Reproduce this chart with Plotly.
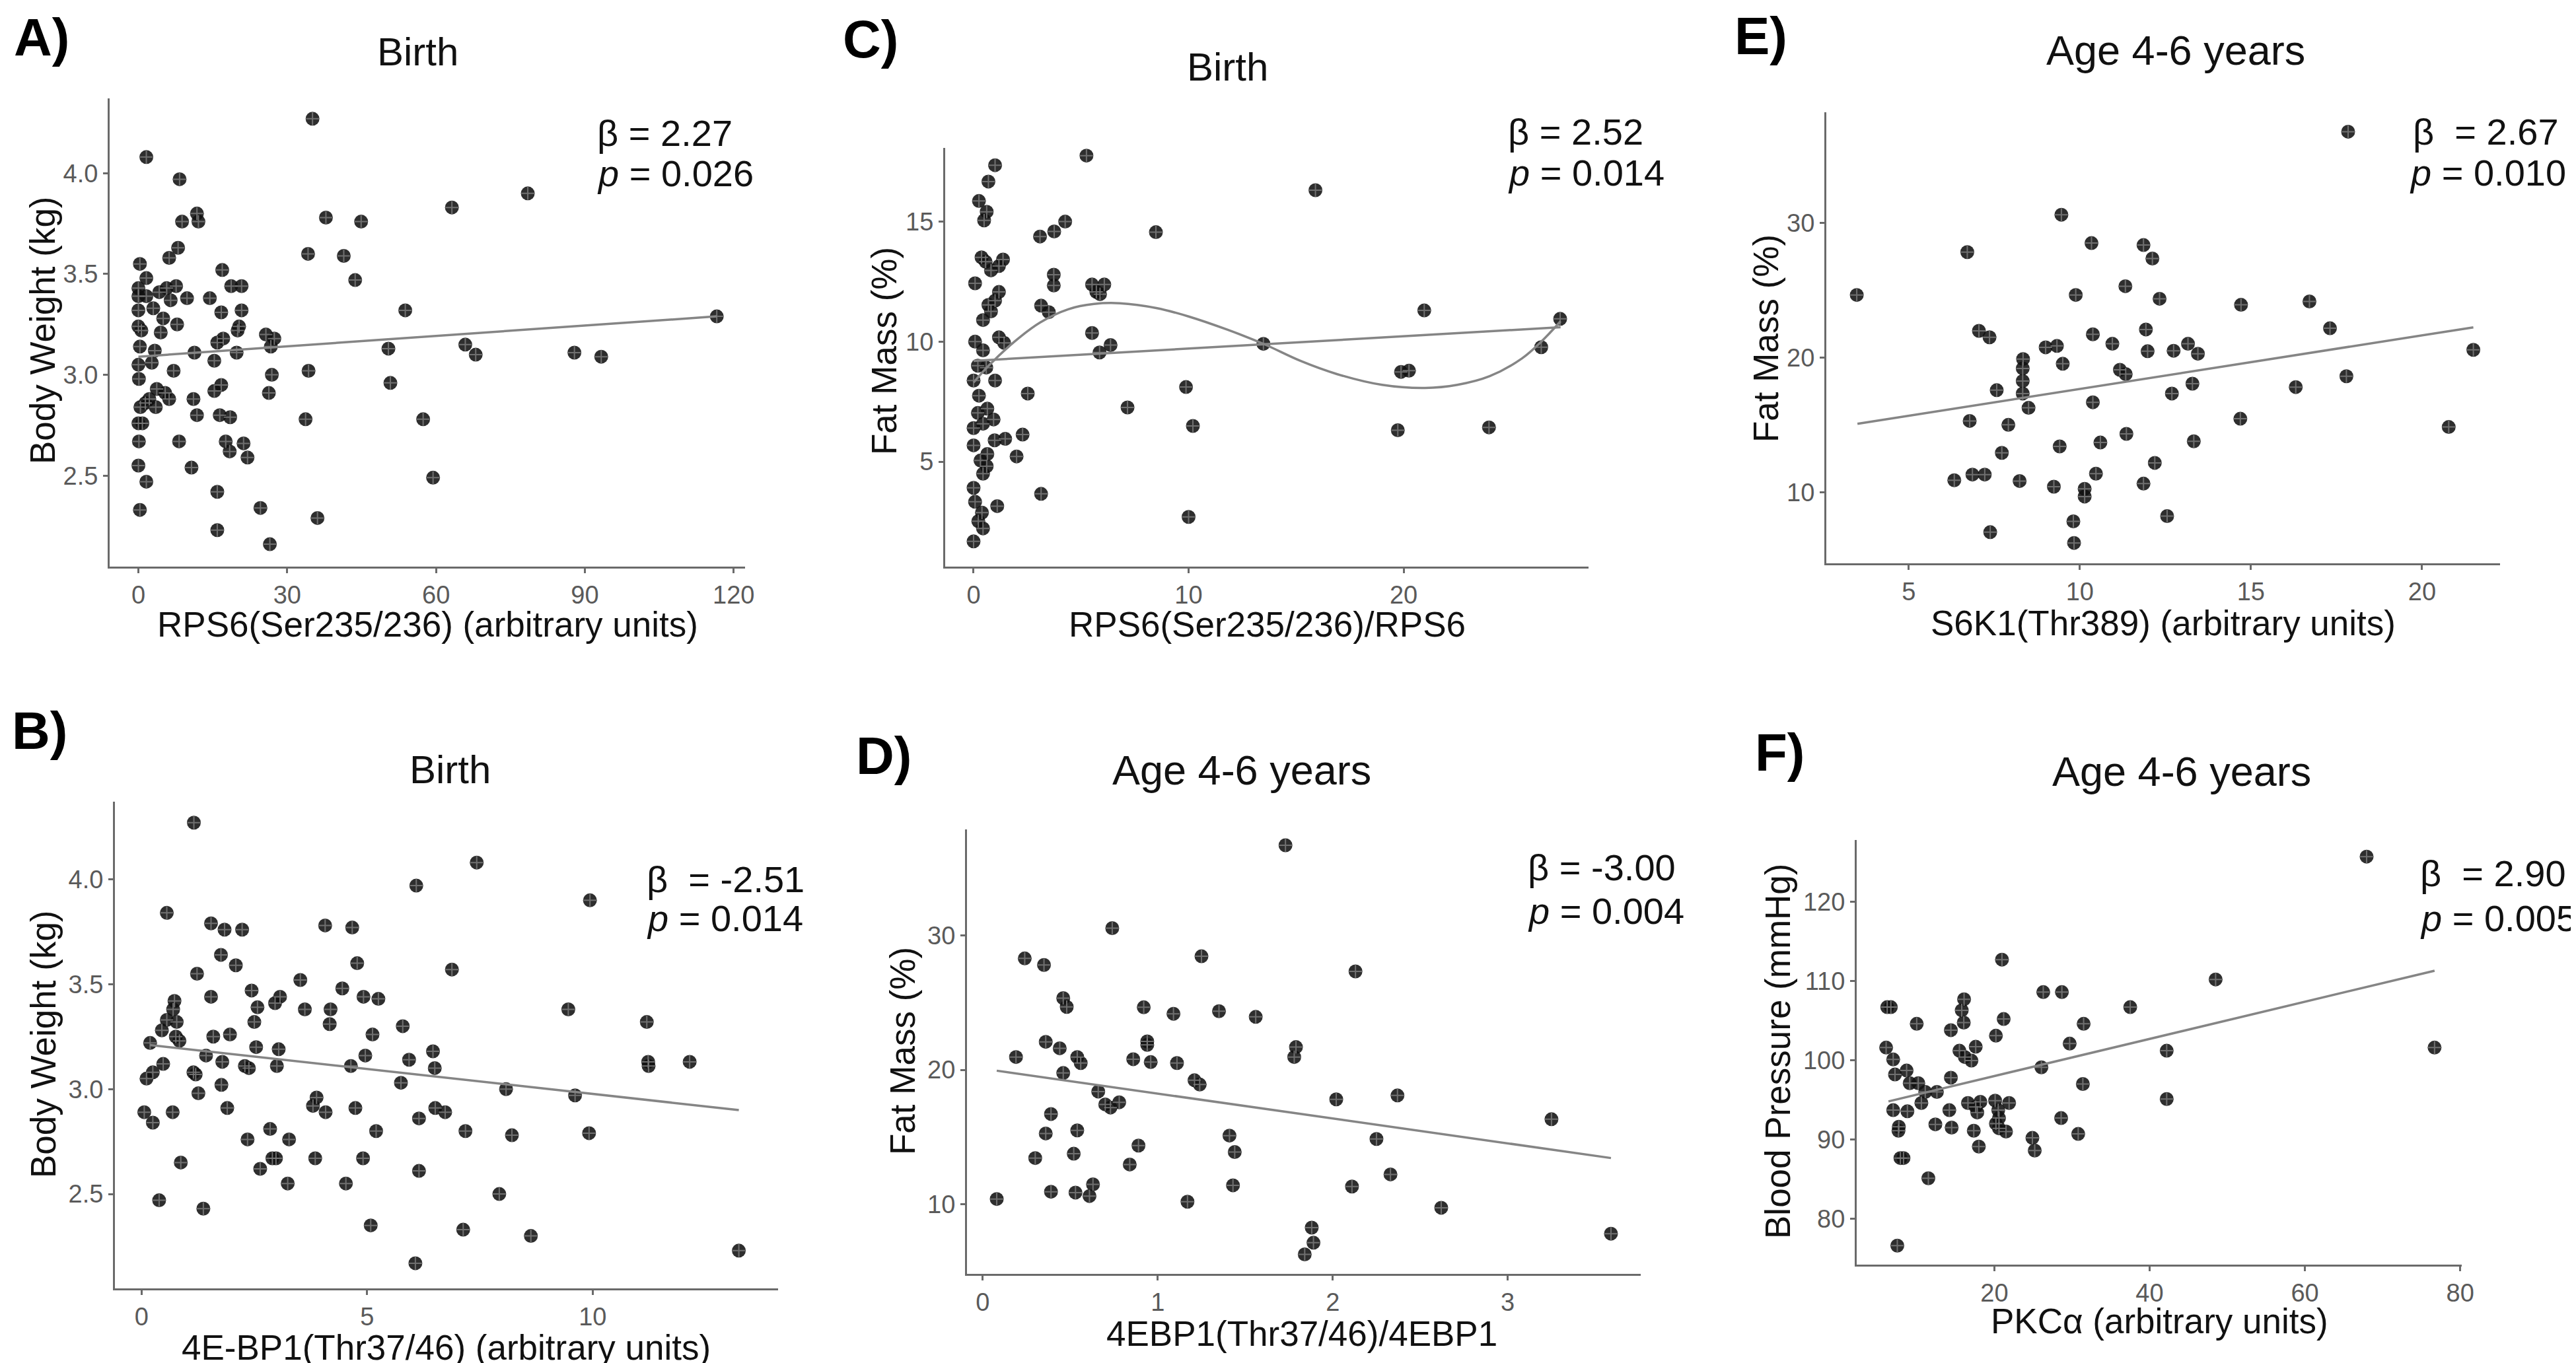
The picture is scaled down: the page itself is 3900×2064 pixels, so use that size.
import plotly.graph_objects as go

FONT = "Liberation Sans, Arial, Helvetica, sans-serif"
W, H = 3900, 2064

# ---------------- data ----------------
# Panel A: Birth, RPS6(Ser235/236) vs body weight
A_x = [1.6, 8.3, 35.1, 78.5, 63.2, 11.8, 12.1, 8.8, 37.8, 44.9,
       8.0, 6.2, 0.3, 34.2, 41.4, 1.6, 16.9, 43.7, 0.0, 7.6,
       5.7, 4.2, 6.5, 1.6, 0.0, 9.8, 14.4, 18.7, 20.8, 0.0,
       3.0, 16.7, 20.8, 53.8, 116.6, 5.0, 7.8, 0.0, 0.6, 4.5,
       20.3, 20.0, 17.1, 15.9, 25.7, 27.4, 26.7, 65.9, 68.0, 50.4,
       87.9, 93.3, 0.3, 3.3, 11.3, 19.8, 0.0, 2.7, 15.3, 7.1,
       34.3, 0.1, 26.9, 50.8, 16.7, 3.7, 5.4, 15.3, 6.2, 11.1,
       26.3, 2.2, 0.4, 3.5, 1.4, 11.8, 16.4, 18.5, 33.7, 57.4,
       0.0, 0.8, 8.2, 17.6, 21.2, 18.4, 22.0, 0.1, 0.0, 10.7,
       1.6, 59.4, 15.9, 24.6, 36.1, 0.3, 15.9, 26.5]
A_y = [4.08, 3.97, 4.27, 3.90, 3.83, 3.80, 3.76, 3.76, 3.78, 3.76,
       3.63, 3.58, 3.55, 3.60, 3.59, 3.48, 3.52, 3.47, 3.43, 3.44,
       3.43, 3.41, 3.37, 3.39, 3.39, 3.38, 3.38, 3.44, 3.44, 3.32,
       3.33, 3.31, 3.32, 3.32, 3.29, 3.28, 3.25, 3.24, 3.22, 3.21,
       3.24, 3.22, 3.18, 3.16, 3.20, 3.18, 3.14, 3.15, 3.10, 3.13,
       3.11, 3.09, 3.14, 3.12, 3.11, 3.11, 3.05, 3.06, 3.07, 3.02,
       3.02, 2.98, 3.00, 2.96, 2.95, 2.93, 2.91, 2.92, 2.88, 2.88,
       2.91, 2.88, 2.84, 2.84, 2.86, 2.80, 2.80, 2.79, 2.78, 2.78,
       2.76, 2.76, 2.67, 2.67, 2.66, 2.62, 2.59, 2.67, 2.55, 2.54,
       2.47, 2.49, 2.42, 2.34, 2.29, 2.33, 2.23, 2.16]
A_fit_x = [0.0, 116.6]
A_fit_y = [3.09, 3.29]

# Panel C: Birth, RPS6(Ser235/236)/RPS6 vs fat mass
C_x = [5.25, 1.0, 0.69, 0.25, 0.61, 0.49, 15.9, 4.26, 3.75, 3.09,
       8.48, 0.37, 0.56, 1.37, 1.18, 0.81, 0.07, 3.73, 3.73, 5.51,
       6.08, 5.71, 5.88, 1.18, 1.0, 0.69, 0.81, 0.44, 3.14, 3.5,
       20.96, 27.28, 5.51, 1.18, 1.42, 0.07, 0.44, 6.37, 5.86, 13.48,
       26.4, 0.2, 0.59, 19.88, 20.25, 9.88, 0.0, 1.0, 0.25, 2.52,
       7.16, 0.2, 0.64, 0.93, 0.0, 0.44, 10.2, 19.73, 23.97, 2.28,
       1.47, 0.98, 0.0, 0.64, 0.32, 2.0, 0.61, 0.44, 0.0, 3.14,
       0.07, 1.1, 0.39, 0.22, 10.0, 0.44, 0.0]
C_y = [17.75, 17.35, 16.67, 15.86, 15.41, 15.05, 16.31, 15.0, 14.59, 14.38,
       14.56, 13.51, 13.33, 13.42, 13.15, 12.97, 12.43, 12.79, 12.34, 12.38,
       12.38, 12.07, 11.98, 12.07, 11.71, 11.53, 11.26, 10.90, 11.50, 11.23,
       11.30, 10.95, 10.36, 10.18, 9.95, 10.0, 9.64, 9.86, 9.55, 9.91,
       9.77, 9.0, 8.92, 8.74, 8.79, 8.11, 8.38, 8.38, 7.75, 7.84,
       7.26, 7.03, 7.21, 6.76, 6.40, 6.58, 6.49, 6.31, 6.43, 6.13,
       5.95, 5.89, 5.68, 5.32, 5.05, 5.22, 4.81, 4.50, 3.91, 3.66,
       3.33, 3.15, 2.88, 2.52, 2.70, 2.22, 1.68]
C_fit_x = [0.0, 27.3]
C_fit_y = [9.2, 10.6]
C_curve_x = [0.0, 0.7, 1.9, 3.1, 4.4, 5.6, 6.8, 8.5, 10.0, 11.8,
             13.5, 15.2, 16.9, 19.0, 21.0, 22.5, 24.0, 25.5, 26.4, 27.3]
C_curve_y = [8.3, 9.0, 10.0, 10.8, 11.35, 11.57, 11.6, 11.4, 11.05, 10.5,
             9.9, 9.2, 8.65, 8.2, 8.07, 8.2, 8.56, 9.3, 10.0, 10.85]

# Panel E: Age 4-6, S6K1(Thr389) vs fat mass
E_x = [17.84, 9.46, 10.34, 6.71, 11.86, 12.12, 11.33, 3.48, 9.88, 12.33,
       14.71, 16.71, 7.05, 7.36, 10.38, 11.93, 17.31, 10.95, 9.0, 9.33,
       12.74, 13.16, 13.45, 11.98, 21.5, 8.34, 8.33, 9.5, 11.17, 11.34,
       8.33, 17.79, 13.29, 16.31, 7.57, 8.33, 12.69, 8.5, 10.38, 6.78,
       14.69, 7.91, 20.78, 11.36, 10.6, 13.33, 9.41, 7.72, 12.19, 6.33,
       6.86, 7.22, 8.24, 10.47, 9.24, 11.86, 10.14, 10.14, 12.55, 7.38,
       9.81, 9.83]
E_y = [36.76, 30.6, 28.5, 27.83, 28.35, 27.35, 25.3, 24.65, 24.65, 24.37,
       23.92, 24.17, 21.99, 21.51, 21.73, 22.09, 22.18, 21.03, 20.77, 20.87,
       20.51, 21.03, 20.29, 20.48, 20.58, 19.9, 19.2, 19.55, 19.1, 18.78,
       18.27, 18.62, 18.07, 17.82, 17.59, 17.34, 17.34, 16.28, 16.69, 15.31,
       15.47, 15.02, 14.86, 14.35, 13.71, 13.8, 13.42, 12.94, 12.2, 10.91,
       11.33, 11.33, 10.85, 11.4, 10.43, 10.66, 10.27, 9.7, 8.25, 7.06,
       7.86, 6.26]
E_fit_x = [3.5, 21.5]
E_fit_y = [15.1, 22.25]

# Panel B: Birth, 4E-BP1(Thr37/46) vs body weight
B_x = [1.16, 7.43, 6.09, 9.94, 0.56, 1.54, 1.84, 2.23, 4.07, 4.67,
       1.76, 2.09, 4.78, 6.88, 1.23, 3.52, 4.45, 2.44, 1.54, 3.07,
       2.96, 4.92, 5.25, 0.73, 2.57, 4.19, 3.62, 9.46, 0.7, 0.56,
       0.78, 11.2, 2.5, 4.17, 5.79, 0.45, 5.12, 1.96, 1.59, 0.76,
       0.84, 0.19, 2.54, 3.04, 6.46, 4.96, 1.43, 5.93, 11.23, 12.15,
       1.79, 0.48, 2.29, 2.38, 3.0, 4.64, 11.24, 6.5, 1.15, 1.2,
       0.25, 0.11, 5.75, 1.77, 8.08, 1.26, 9.61, 3.88, 3.8, 1.9,
       4.74, 6.51, 6.73, 4.08, 0.06, 0.69, 0.25, 6.15, 2.85, 5.2,
       7.18, 8.21, 9.92, 2.35, 3.27, 2.9, 2.98, 3.85, 4.91, 2.63,
       0.87, 6.15, 3.24, 4.53, 7.93, 0.39, 1.37, 5.08, 7.13, 8.63,
       6.07, 13.24]
B_y = [4.27, 4.08, 3.97, 3.90, 3.84, 3.79, 3.76, 3.76, 3.78, 3.77,
       3.64, 3.59, 3.60, 3.57, 3.55, 3.52, 3.48, 3.47, 3.44, 3.44,
       3.41, 3.44, 3.43, 3.42, 3.39, 3.38, 3.38, 3.38, 3.38, 3.33,
       3.32, 3.32, 3.32, 3.31, 3.30, 3.28, 3.26, 3.26, 3.25, 3.25,
       3.23, 3.22, 3.20, 3.19, 3.18, 3.16, 3.16, 3.14, 3.13, 3.13,
       3.13, 3.12, 3.11, 3.10, 3.11, 3.11, 3.11, 3.10, 3.08, 3.07,
       3.08, 3.05, 3.03, 3.02, 3.00, 2.98, 2.97, 2.96, 2.92, 2.91,
       2.91, 2.91, 2.89, 2.89, 2.89, 2.89, 2.84, 2.86, 2.81, 2.80,
       2.80, 2.78, 2.79, 2.76, 2.76, 2.67, 2.67, 2.67, 2.67, 2.62,
       2.65, 2.61, 2.55, 2.55, 2.50, 2.47, 2.43, 2.35, 2.33, 2.30,
       2.17, 2.23]
B_fit_x = [0.19, 13.24]
B_fit_y = [3.21, 2.90]

# Panel D: Age 4-6, 4EBP1(Thr37/46)/4EBP1 vs fat mass
D_x = [1.73, 0.74, 0.24, 0.35, 1.25, 2.13, 0.46, 0.48, 0.92, 1.09,
       1.35, 1.56, 0.36, 0.44, 0.94, 0.94, 1.79, 0.19, 0.54, 0.56,
       0.86, 0.96, 1.11, 1.78, 0.46, 1.21, 1.24, 0.66, 2.02, 2.37,
       0.7, 0.78, 0.73, 0.39, 3.25, 0.36, 0.54, 1.41, 2.25, 0.89,
       0.3, 0.52, 1.44, 0.84, 2.33, 0.08, 0.39, 0.53, 0.61, 0.63,
       1.43, 2.11, 1.17, 2.62, 1.88, 1.89, 1.84, 3.59]
D_y = [36.72, 30.55, 28.3, 27.81, 28.46, 27.33, 25.34, 24.69, 24.66, 24.18,
       24.37, 23.95, 22.09, 21.61, 22.12, 21.86, 21.7, 20.96, 20.96, 20.51,
       20.8, 20.58, 20.51, 20.96, 19.77, 19.23, 18.91, 18.39, 17.81, 18.1,
       17.43, 17.59, 17.2, 16.72, 16.33, 15.27, 15.5, 15.11, 14.86, 14.37,
       13.44, 13.76, 13.89, 12.96, 12.22, 10.39, 10.93, 10.87, 10.61, 11.48,
       11.41, 11.32, 10.19, 9.74, 8.26, 7.14, 6.27, 7.81]
D_fit_x = [0.08, 3.59]
D_fit_y = [19.94, 13.44]

# Panel F: Age 4-6, PKCalpha vs blood pressure
F_x = [67.95, 20.98, 48.5, 26.3, 28.7, 16.1, 6.2, 6.67, 37.5, 15.8,
       16.06, 10.0, 31.5, 14.4, 21.2, 20.2, 6.06, 76.7, 17.6, 15.5,
       42.2, 29.7, 6.97, 16.2, 17.05, 26.06, 7.2, 8.7, 9.1, 10.2,
       14.4, 31.4, 11.1, 12.6, 10.6, 42.2, 16.6, 18.2, 20.1, 21.9,
       6.97, 8.8, 14.2, 17.6, 17.8, 20.5, 20.6, 28.6, 20.2, 12.4,
       14.5, 7.7, 7.65, 17.35, 20.6, 21.5, 30.8, 24.9, 25.2, 18.0,
       7.9, 8.3, 11.5, 7.5]
F_y = [125.7, 112.7, 110.2, 108.6, 108.6, 107.7, 106.7, 106.7, 106.7, 106.3,
       104.75, 104.6, 104.6, 103.8, 105.2, 103.1, 101.6, 101.6, 101.7, 101.2,
       101.2, 102.1, 100.1, 100.4, 99.95, 99.1, 98.2, 98.7, 97.1, 97.1,
       97.8, 97.0, 96.0, 96.0, 94.6, 95.1, 94.6, 94.75, 94.9, 94.6,
       93.7, 93.55, 93.7, 94.1, 93.4, 93.7, 92.7, 92.7, 92.0, 91.9,
       91.5, 91.6, 91.1, 91.1, 91.4, 91.0, 90.7, 90.2, 88.6, 89.1,
       87.65, 87.65, 85.1, 76.6]
F_fit_x = [6.36, 76.7]
F_fit_y = [94.8, 111.3]

# Text content
titles = ["Birth", "Birth", "Age 4-6 years", "Birth", "Age 4-6 years", "Age 4-6 years"]
labels = ["A)", "C)", "E)", "B)", "D)", "F)"]
x_titles = ["RPS6(Ser235/236) (arbitrary units)", "RPS6(Ser235/236)/RPS6",
            "S6K1(Thr389) (arbitrary units)", "4E-BP1(Thr37/46) (arbitrary units)",
            "4EBP1(Thr37/46)/4EBP1", "PKC\u03b1 (arbitrary units)"]
y_titles = ["Body Weight (kg)", "Fat Mass (%)", "Fat Mass (%)",
            "Body Weight (kg)", "Fat Mass (%)", "Blood Pressure (mmHg)"]
beta_texts = ["\u03b2 = 2.27", "\u03b2 = 2.52", "\u03b2\u00a0\u00a0= 2.67",
              "\u03b2\u00a0\u00a0= -2.51", "\u03b2 = -3.00", "\u03b2\u00a0\u00a0= 2.90"]
p_texts = ["0.026", "0.014", "0.010", "0.014", "0.004", "0.005"]
x_ticks = [[0, 30, 60, 90, 120], [0, 10, 20], [5, 10, 15, 20], [0, 5, 10], [0, 1, 2, 3], [20, 40, 60, 80]]
y_ticks = [[2.5, 3.0, 3.5, 4.0], [5, 10, 15], [10, 20, 30], [2.5, 3.0, 3.5, 4.0], [10, 20, 30], [80, 90, 100, 110, 120]]

# ---------------- layout geometry (pixels) ----------------
geom = [
    dict(xd=(158, 1120), yd=(141, 850), xr=(-5.8, 122.3), yr=(2.049, 4.371), yfmt=".1f",
         title=(624, 71), label=(11, 48), xt=(639, 937), yt=(57, 492),
         beta=(92.2, 4.20), p=(92.2, 4.0)),
    dict(xd=(1423, 2397), yd=(216, 850), xr=(-1.32, 28.6), yr=(0.63, 18.07), yfmt="",
         title=(1850, 94), label=(1266, 51), xt=(1910, 937), yt=(1330, 524),
         beta=(24.8, 18.74), p=(24.8, 17.03)),
    dict(xd=(2757, 3777), yd=(162, 845), xr=(2.59, 22.28), yr=(4.75, 38.2), yfmt="",
         title=(3286, 68), label=(2616, 46), xt=(3267, 935), yt=(2665, 505),
         beta=(19.69, 36.76), p=(19.6, 33.7)),
    dict(xd=(166, 1170), yd=(1206, 1943), xr=(-0.59, 14.11), yr=(2.05, 4.37), yfmt=".1f",
         title=(673, 1157), label=(8, 1098), xt=(667, 2032), yt=(57, 1573),
         beta=(11.17, 4.0), p=(11.17, 3.815)),
    dict(xd=(1456, 2476), yd=(1248, 1921), xr=(-0.09, 3.76), yr=(4.82, 37.9), yfmt="",
         title=(1872, 1158), label=(1286, 1136), xt=(1963, 2011), yt=(1358, 1584),
         beta=(3.106, 35.05), p=(3.106, 31.83)),
    dict(xd=(2803, 3719), yd=(1264, 1907), xr=(2.27, 80.2), yr=(74.2, 127.8), yfmt="",
         title=(3295, 1160), label=(2647, 1131), xt=(3261, 1992), yt=(2683, 1584),
         beta=(74.7, 123.6), p=(74.7, 117.9)),
]

series = [
    (A_x, A_y, [(A_fit_x, A_fit_y, "linear")]),
    (C_x, C_y, [(C_curve_x, C_curve_y, "spline"), (C_fit_x, C_fit_y, "linear")]),
    (E_x, E_y, [(E_fit_x, E_fit_y, "linear")]),
    (B_x, B_y, [(B_fit_x, B_fit_y, "linear")]),
    (D_x, D_y, [(D_fit_x, D_fit_y, "linear")]),
    (F_x, F_y, [(F_fit_x, F_fit_y, "linear")]),
]

AXIS_COLOR = "#6a6a6a"
TICK_FONT = dict(family=FONT, size=38, color="#5a5a5a")
TEXT_COLOR = "#111111"

fig = go.Figure()
layout = dict(width=W, height=H, margin=dict(l=0, r=0, t=0, b=0),
              paper_bgcolor="white", plot_bgcolor="white", showlegend=False,
              font=dict(family=FONT, color=TEXT_COLOR))
annotations = []


def px(xp):
    return xp / W


def py(yp):
    return 1 - yp / H


def data_to_paper(g, xv, yv):
    (x0, x1), (y0, y1) = g["xr"], g["yr"]
    xpix = g["xd"][0] + (xv - x0) / (x1 - x0) * (g["xd"][1] - g["xd"][0])
    ypix = g["yd"][1] - (yv - y0) / (y1 - y0) * (g["yd"][1] - g["yd"][0])
    return px(xpix), py(ypix)


for i, (g, (sx, sy, fits)) in enumerate(zip(geom, series)):
    n = i + 1
    xa = "xaxis" if n == 1 else f"xaxis{n}"
    ya = "yaxis" if n == 1 else f"yaxis{n}"
    xr_ = "x" if n == 1 else f"x{n}"
    yr_ = "y" if n == 1 else f"y{n}"
    common = dict(showline=True, linecolor=AXIS_COLOR, linewidth=3, ticks="outside",
                  ticklen=7, tickwidth=2.5, tickcolor=AXIS_COLOR, showgrid=False,
                  zeroline=False, tickfont=TICK_FONT, automargin=False, fixedrange=True)
    layout[xa] = dict(domain=[px(g["xd"][0]), px(g["xd"][1])], anchor=yr_,
                      range=list(g["xr"]), tickvals=x_ticks[i], **common)
    ya_d = dict(domain=[py(g["yd"][1]), py(g["yd"][0])], anchor=xr_,
                range=list(g["yr"]), tickvals=y_ticks[i], **common)
    if g["yfmt"]:
        ya_d["tickformat"] = g["yfmt"]
    layout[ya] = ya_d

    # points: dark disc plus light cross
    fig.add_trace(go.Scatter(x=sx, y=sy, mode="markers", xaxis=xr_, yaxis=yr_,
                             marker=dict(symbol="circle", size=21, color="rgba(15,15,15,0.87)",
                                         line=dict(width=0)), hoverinfo="skip"))
    fig.add_trace(go.Scatter(x=sx, y=sy, mode="markers", xaxis=xr_, yaxis=yr_,
                             marker=dict(symbol="cross-thin", size=14,
                                         line=dict(width=2, color="rgba(120,120,120,0.9)")),
                             hoverinfo="skip"))
    for fx, fy, shape in fits:
        fig.add_trace(go.Scatter(x=fx, y=fy, mode="lines", xaxis=xr_, yaxis=yr_,
                                 line=dict(color="#858585", width=3.5, shape=shape),
                                 hoverinfo="skip"))

    tsize = 60 if titles[i] == "Birth" else 63
    annotations.append(dict(x=px(g["title"][0]), y=py(g["title"][1]), xref="paper", yref="paper",
                            text=titles[i], showarrow=False, xanchor="center", yanchor="middle",
                            font=dict(family=FONT, size=tsize, color=TEXT_COLOR)))
    annotations.append(dict(x=px(g["label"][0]), y=py(g["label"][1]), xref="paper", yref="paper",
                            text=f"<b>{labels[i]}</b>", showarrow=False, xanchor="left",
                            yanchor="middle", font=dict(family=FONT, size=80, color="#000000")))
    annotations.append(dict(x=px(g["xt"][0]), y=py(g["xt"][1]), xref="paper", yref="paper",
                            text=x_titles[i], showarrow=False, xanchor="center", yanchor="middle",
                            font=dict(family=FONT, size=53, color=TEXT_COLOR)))
    annotations.append(dict(x=px(g["yt"][0]), y=py(g["yt"][1]), xref="paper", yref="paper",
                            text=y_titles[i], showarrow=False, xanchor="center", yanchor="middle",
                            textangle=-90, font=dict(family=FONT, size=53, color=TEXT_COLOR)))
    bx, by = data_to_paper(g, *g["beta"])
    annotations.append(dict(x=bx, y=by, xref="paper", yref="paper",
                            text=beta_texts[i], showarrow=False, xanchor="left", yanchor="middle",
                            font=dict(family=FONT, size=56, color=TEXT_COLOR)))
    qx, qy = data_to_paper(g, *g["p"])
    annotations.append(dict(x=qx, y=qy, xref="paper", yref="paper",
                            text=f"<i>p</i> = {p_texts[i]}", showarrow=False, xanchor="left",
                            yanchor="middle", font=dict(family=FONT, size=56, color=TEXT_COLOR)))

layout["annotations"] = annotations
fig.update_layout(**layout)
fig.write_html("out.html")
